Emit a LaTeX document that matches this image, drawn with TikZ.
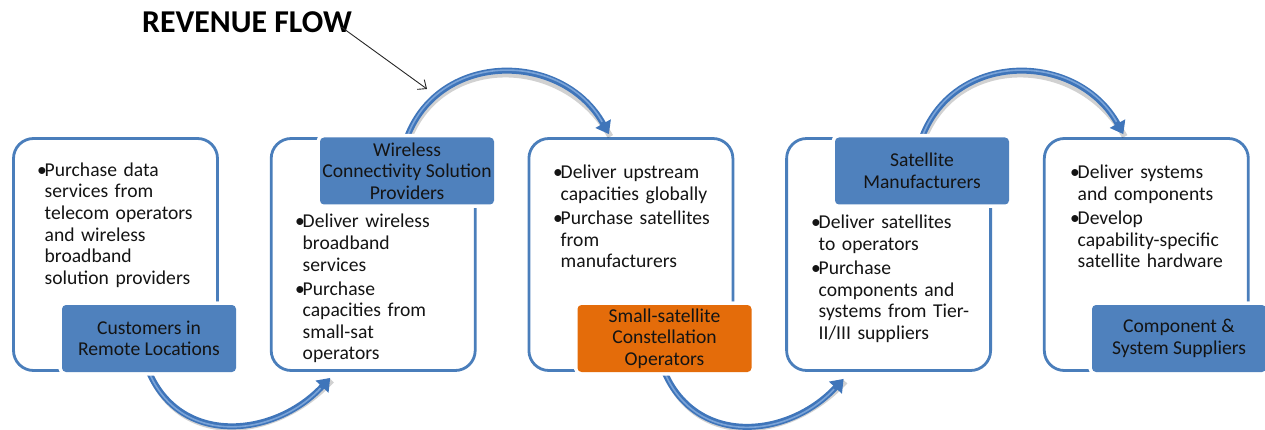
\documentclass[tikz,border=0pt]{standalone}
\usepackage{fontspec}
\setmainfont{Carlito}
\usetikzlibrary{arrows.meta,calc}

\definecolor{boxline}{HTML}{4A7EBB}
\definecolor{lblue}{HTML}{4F81BD}
\definecolor{lorange}{HTML}{E46C0A}
\definecolor{arcblue}{HTML}{3F75BA}
\definecolor{archi}{HTML}{8AB0E0}
\definecolor{ink}{HTML}{141414}

% bullet paragraph with hanging indent; \nl breaks a line inside it
\newcommand\bpt[1]{\par\hangindent=7.5pt\hangafter=1\noindent\makebox[7.5pt][l]{•}#1\par}
\newcommand\nl{\newline}

\tikzset{
  body/.style={font=\fontsize{19.6}{21.6}\selectfont},
  stage/.style={draw=boxline, line width=2.8pt, rounded corners=20pt, fill=white,
    minimum width=204pt, minimum height=232pt, inner sep=0pt},
  role/.style={body, fill=lblue, rounded corners=4pt, preaction={draw=white, line width=7pt},
    minimum width=174pt, minimum height=67pt, inner sep=0pt, align=center, text=ink},
  notes/.style={body, anchor=north west, inner sep=0pt, text width=210pt, text=ink},
  flow/.style={line width=6pt, draw=arcblue, -{Triangle[width=17pt,length=12pt]}},
  flowshadow/.style={line width=6pt, draw=black, opacity=0.18,
    transform canvas={shift={(1.5pt,-2.5pt)}}},
  flowhi/.style={line width=1.6pt, draw=archi, opacity=0.8, shorten >=14pt, shorten <=2pt},
  pointer/.style={draw=black!85, line width=0.9pt, -{Straight Barb[length=7pt,width=12pt]}}
}

\begin{document}
\begin{tikzpicture}[x=1pt,y=-1pt]
\useasboundingbox (0,0) rectangle (1265,430);

% value-chain stages
\node[stage] (b1) at (115.5,254.5) {};
\node[stage] (b2) at (373.2,254.5) {};
\node[stage] (b3) at (630.9,254.5) {};
\node[stage] (b4) at (888.6,254.5) {};
\node[stage] (b5) at (1146.3,254.5) {};

% arc end points
\coordinate (e1) at ($(b2.south)+(-43,6)$);
\coordinate (e2) at ($(b3.north)+(-22,-3)$);
\coordinate (e3) at ($(b4.south)+(-45,7)$);
\coordinate (e4) at ($(b5.north)+(-23,-3)$);

% role labels (placed first for anchors)
\path
  node[role] (l1) at (149,338.5) {Customers in\\Remote Locations}
  node[role] (l2) at (407,171) {Wireless\\Connectivity Solution\\Providers}
  node[role, fill=lorange] (l3) at (664.5,338.5) {Small-satellite\\Constellation\\Operators}
  node[role] (l4) at (922,171) {Satellite\\Manufacturers}
  node[role] (l5) at (1179,338.5) {Component \&\\System Suppliers};

% revenue flow arcs
\foreach \s/\e/\ca/\cb in {l1.south/e1/{+(33,75)}/{+(-55,59)},
                           l2.north/e2/{+(33,-87)}/{+(-46,-83)},
                           l3.south/e3/{+(33,75)}/{+(-55,59)},
                           l4.north/e4/{+(33,-87)}/{+(-46,-83)}}{
  \draw[flowshadow] (\s) .. controls \ca and \cb .. (\e);
  \draw[flow] (\s) .. controls \ca and \cb .. (\e);
  \draw[flowhi] (\s) .. controls \ca and \cb .. (\e);
}

% labels drawn again on top of the arc ends
\node[role] at (l1) {Customers in\\Remote Locations};
\node[role] at (l2) {Wireless\\Connectivity Solution\\Providers};
\node[role, fill=lorange] at (l3) {Small-satellite\\Constellation\\Operators};
\node[role] at (l4) {Satellite\\Manufacturers};
\node[role] at (l5) {Component \&\\System Suppliers};

% stage descriptions
\node[notes] (t1) at (37,154.5) {\bpt{Purchase data\nl services from\nl telecom operators\nl and wireless\nl broadband\nl solution providers}};
\node[notes] (t2) at (295,203.5) {\setlength\parskip{2.5pt}\bpt{Deliver wireless\nl broadband\nl services}\bpt{Purchase\nl capacities from\nl small-sat\nl operators}};
\node[notes] (t3) at (553,154.5) {\setlength\parskip{2.5pt}\bpt{Deliver upstream\nl capacities globally}\bpt{Purchase satellites\nl from\nl manufacturers}};
\node[notes] (t4) at (811,204.5) {\setlength\parskip{2.5pt}\bpt{Deliver satellites\nl to operators}\bpt{Purchase\nl components and\nl systems from Tier-\nl II/III suppliers}};
\node[notes] (t5) at (1070,154.5) {\setlength\parskip{2.5pt}\bpt{Deliver systems\nl and components}\bpt{Develop\nl capability-specific\nl satellite hardware}};

% title with pointer to the flow
\node[font=\fontsize{31.8}{38}\selectfont\bfseries, text=black] (title) at (247,22) {REVENUE FLOW};
\coordinate (tip) at (427,89);
\draw[pointer] ($(title.east)+(-14,5)$) -- (tip);
\end{tikzpicture}
\end{document}
